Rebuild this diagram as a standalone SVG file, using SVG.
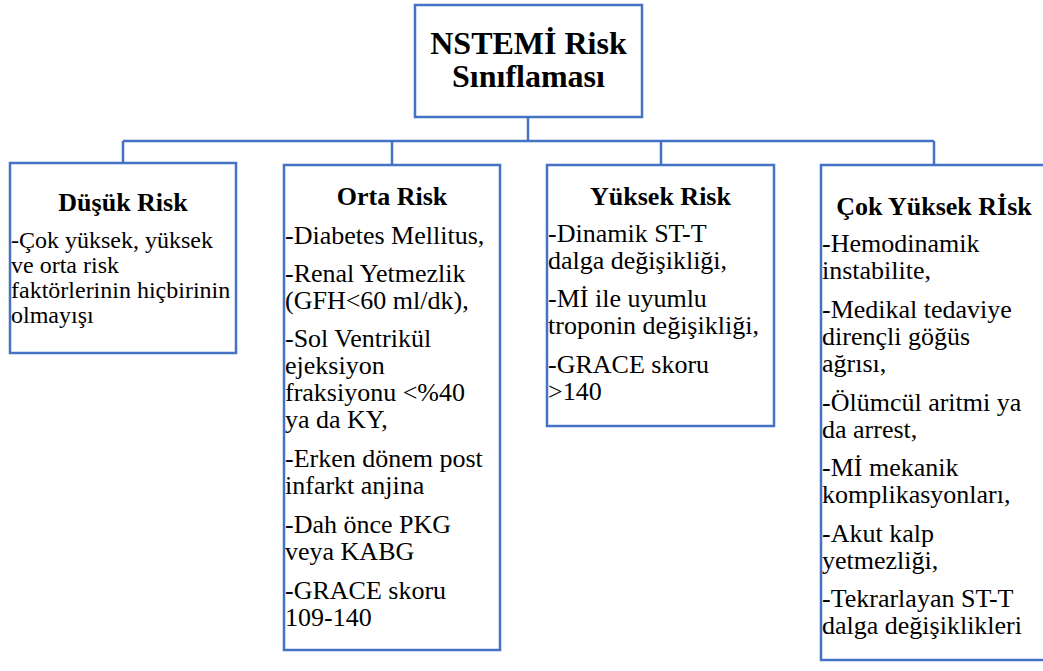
<svg xmlns="http://www.w3.org/2000/svg" width="1043" height="671" viewBox="0 0 1043 671" xml:lang="tr" font-family="Liberation Serif">
<style>
.box{fill:#ffffff;stroke:#4472C4;stroke-width:2.5}
.con{fill:none;stroke:#4472C4;stroke-width:2.5}
.ttl{font-size:32px;font-weight:bold;text-anchor:middle;fill:#000000}
.hd{font-size:26px;font-weight:bold;text-anchor:middle;fill:#000000}
.ln{font-size:26px;fill:#000000}
.sm{font-size:24px;fill:#000000}
</style>
<rect width="1043" height="671" fill="#ffffff"/>
<g id="connectors">
<path class="con" d="M528,117 V141 M123,141 H934 M123,141 V163 M392,141 V165 M661,141 V165 M934,141 V165"/>
</g>
<g id="root">
<rect class="box" x="415" y="5" width="227" height="112"/>
<text class="ttl" x="528.5" y="54">NSTEMİ Risk</text>
<text class="ttl" x="528.5" y="87">Sınıflaması</text>
</g>
<g id="dusuk">
<rect class="box" x="10" y="163" width="226" height="190"/>
<text class="hd" x="123" y="211">Düşük Risk</text>
<text class="sm" x="11" y="248">-Çok yüksek, yüksek</text>
<text class="sm" x="11" y="273">ve orta risk</text>
<text class="sm" x="11" y="298">faktörlerinin hiçbirinin</text>
<text class="sm" x="11" y="323">olmayışı</text>
</g>
<g id="orta">
<rect class="box" x="284" y="165" width="216" height="485"/>
<text class="hd" x="392" y="205">Orta Risk</text>
<text class="ln" x="285" y="244">-Diabetes Mellitus,</text>
<text class="ln" x="285" y="282">-Renal Yetmezlik</text>
<text class="ln" x="285" y="309">(GFH&lt;60 ml/dk),</text>
<text class="ln" x="285" y="347">-Sol Ventrikül</text>
<text class="ln" x="285" y="374">ejeksiyon</text>
<text class="ln" x="285" y="401">fraksiyonu &lt;%40</text>
<text class="ln" x="285" y="428">ya da KY,</text>
<text class="ln" x="285" y="467">-Erken dönem post</text>
<text class="ln" x="285" y="494">infarkt anjina</text>
<text class="ln" x="285" y="533">-Dah önce PKG</text>
<text class="ln" x="285" y="560">veya KABG</text>
<text class="ln" x="285" y="599">-GRACE skoru</text>
<text class="ln" x="285" y="626">109-140</text>
</g>
<g id="yuksek">
<rect class="box" x="547" y="165" width="227" height="261"/>
<text class="hd" x="660.5" y="205">Yüksek Risk</text>
<text class="ln" x="548" y="242">-Dinamik ST-T</text>
<text class="ln" x="548" y="269">dalga değişikliği,</text>
<text class="ln" x="548" y="307">-Mİ ile uyumlu</text>
<text class="ln" x="548" y="334">troponin değişikliği,</text>
<text class="ln" x="548" y="373">-GRACE skoru</text>
<text class="ln" x="548" y="400">&gt;140</text>
</g>
<g id="cokyuksek">
<rect class="box" x="821" y="165" width="226" height="495"/>
<text class="hd" x="934" y="215">Çok Yüksek Rİsk</text>
<text class="ln" x="822" y="252">-Hemodinamik</text>
<text class="ln" x="822" y="279">instabilite,</text>
<text class="ln" x="822" y="318">-Medikal tedaviye</text>
<text class="ln" x="822" y="345">dirençli göğüs</text>
<text class="ln" x="822" y="372">ağrısı,</text>
<text class="ln" x="822" y="411">-Ölümcül aritmi ya</text>
<text class="ln" x="822" y="438">da arrest,</text>
<text class="ln" x="822" y="476">-Mİ mekanik</text>
<text class="ln" x="822" y="503">komplikasyonları,</text>
<text class="ln" x="822" y="542">-Akut kalp</text>
<text class="ln" x="822" y="569">yetmezliği,</text>
<text class="ln" x="822" y="607">-Tekrarlayan ST-T</text>
<text class="ln" x="822" y="634">dalga değişiklikleri</text>
</g>
</svg>
